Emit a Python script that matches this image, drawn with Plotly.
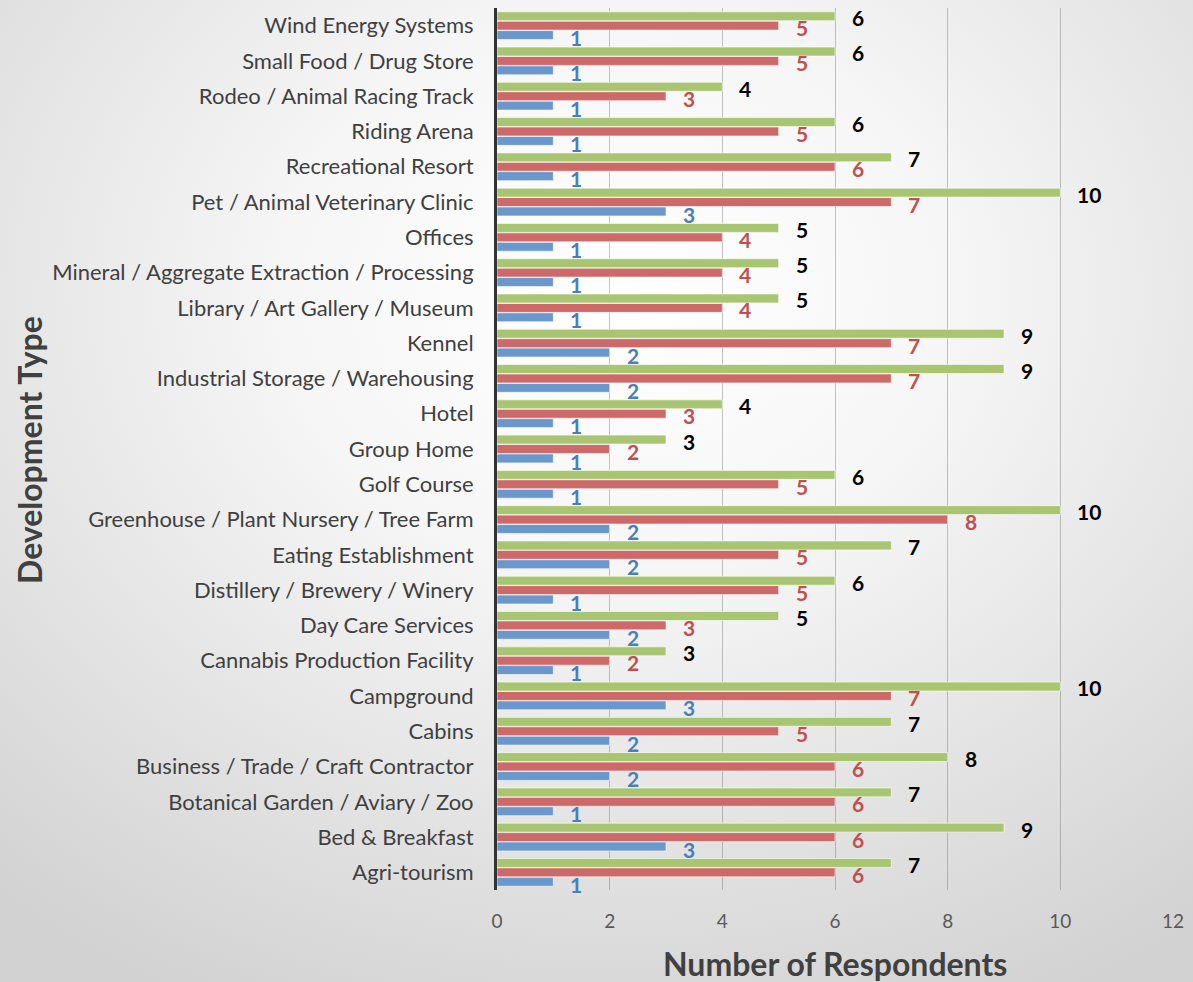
import base64
import plotly.graph_objects as go

categories = [
    "Agri-tourism", "Bed & Breakfast", "Botanical Garden / Aviary / Zoo",
    "Business / Trade / Craft Contractor", "Cabins", "Campground",
    "Cannabis Production Facility", "Day Care Services",
    "Distillery / Brewery / Winery", "Eating Establishment",
    "Greenhouse / Plant Nursery / Tree Farm", "Golf Course", "Group Home",
    "Hotel", "Industrial Storage / Warehousing", "Kennel",
    "Library / Art Gallery / Museum",
    "Mineral / Aggregate Extraction / Processing", "Offices",
    "Pet / Animal Veterinary Clinic", "Recreational Resort", "Riding Arena",
    "Rodeo / Animal Racing Track", "Small Food / Drug Store",
    "Wind Energy Systems",
]
blue_vals = [1, 3, 1, 2, 2, 3, 1, 2, 1, 2, 2, 1, 1, 1, 2, 2, 1, 1, 1, 3, 1, 1, 1, 1, 1]
red_vals = [6, 6, 6, 6, 5, 7, 2, 3, 5, 5, 8, 5, 2, 3, 7, 7, 4, 4, 4, 7, 6, 5, 3, 5, 5]
green_vals = [7, 9, 7, 8, 7, 10, 3, 5, 6, 7, 10, 6, 3, 4, 9, 9, 5, 5, 5, 10, 7, 6, 4, 6, 6]
x_ticks = [0, 2, 4, 6, 8, 10, 12]

W, H = 1193, 982
ML, MR, MT, MB = 497, 20, 8, 92
PW, PH = W - ML - MR, H - MT - MB

svg = (
    f"<svg xmlns='http://www.w3.org/2000/svg' width='{W}' height='{H}' viewBox='0 0 {W} {H}' preserveAspectRatio='none'>"
    "<defs><radialGradient id='g' cx='0.52' cy='0.3' r='0.8'>"
    "<stop offset='0' stop-color='#ffffff'/><stop offset='0.35' stop-color='#f6f6f6'/>"
    "<stop offset='1' stop-color='#d2d2d2'/></radialGradient></defs>"
    f"<rect width='{W}' height='{H}' fill='url(#g)'/></svg>"
)
bg_src = "data:image/svg+xml;base64," + base64.b64encode(svg.encode()).decode()

font = "Lato"
series = [
    ("Blue", blue_vals, "#6a97cc", "#4a7ebb", -12),
    ("Red", red_vals, "#cd6968", "#c0504d", -2),
    ("Green", green_vals, "#a8c572", "#000000", 8),
]

fig = go.Figure()
annotations = []
for name, vals, col, lcol, ysh in series:
    fig.add_trace(go.Bar(
        name=name, y=categories, x=vals, orientation="h",
        marker=dict(color=col, line=dict(color="rgba(255,255,255,0.6)", width=1)),
        hoverinfo="x+y",
    ))
    for c, v in zip(categories, vals):
        annotations.append(dict(
            x=v, y=c, xref="x", yref="y", text=f"<b>{v}</b>", showarrow=False,
            xanchor="left", xshift=15, yshift=ysh,
            font=dict(family=font, size=21, color=lcol),
        ))

annotations.append(dict(
    text="<b>Number of Respondents</b>", xref="paper", yref="paper",
    x=0.5, y=-(963 - (H - MB)) / PH, xanchor="center", yanchor="middle",
    showarrow=False, font=dict(family=font, size=32, color="#404040"),
))
annotations.append(dict(
    text="<b>Development Type</b>", xref="paper", yref="paper",
    x=-(ML - 30) / PW, y=((H - MB) - 450) / PH, xanchor="center", yanchor="middle",
    textangle=-90, showarrow=False, font=dict(family=font, size=32, color="#404040"),
))

fig.update_layout(
    width=W, height=H,
    margin=dict(l=ML, r=MR, t=MT, b=MB),
    barmode="group", bargap=0.2, bargroupgap=0.05,
    showlegend=False,
    paper_bgcolor="#dedede", plot_bgcolor="rgba(0,0,0,0)",
    font=dict(family=font, color="#404040"),
    annotations=annotations,
    images=[dict(
        source=bg_src, xref="paper", yref="paper",
        x=-ML / PW, y=1 + MT / PH, sizex=W / PW, sizey=H / PH,
        xanchor="left", yanchor="top", sizing="stretch", layer="below",
    )],
    xaxis=dict(
        range=[0, 12], tickvals=x_ticks, showgrid=True,
        gridcolor="rgba(90,90,90,0.35)", gridwidth=1, zeroline=False,
        showline=False, tickfont=dict(family=font, size=19, color="#595959"),
        ticklabelstandoff=18,
    ),
    yaxis=dict(
        range=[-0.5, len(categories) - 0.5],
        showgrid=False, showline=True, linecolor="#333333", linewidth=3,
        tickfont=dict(family=font, size=22, color="#404040"),
        ticklabelstandoff=16,
    ),
)

fig.write_html(
    "out.html",
    config={"displayModeBar": False},
    post_script="document.body.style.margin='0px';document.body.style.overflow='hidden';",
)
